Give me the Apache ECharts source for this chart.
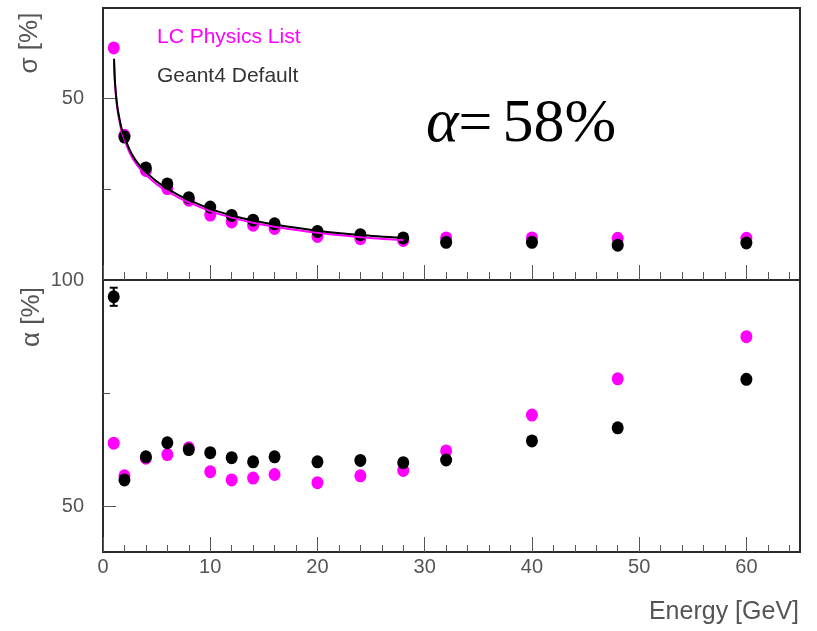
<!DOCTYPE html>
<html>
<head>
<meta charset="utf-8">
<script src="https://cdn.jsdelivr.net/npm/echarts@6/dist/echarts.min.js"></script>
<style>
  html, body { margin: 0; padding: 0; background: #fff; }
  #chart { width: 817px; height: 631px; }
</style>
</head>
<body>
<div id="chart"></div>
<script>
// Beam energies [GeV]
const energy = [1, 2, 4, 6, 8, 10, 12, 14, 16, 20, 24, 28, 32, 40, 48, 60];

// Relative resolution sigma [%]
const sigmaLC = [64.0, 39.9, 30.2, 25.2, 22.0, 17.9, 16.0, 15.1, 14.2, 12.0, 11.4, 10.9, 11.6, 11.6, 11.5, 11.5];
const sigmaG4 = [null, 39.4, 30.9, 26.5, 22.7, 20.1, 17.8, 16.5, 15.5, 13.4, 12.5, 11.6, 10.4, 10.4, 9.6, 10.2];

// Stochastic term alpha [%]
const alphaLC = [64.0, 56.8, 60.7, 61.5, 63.0, 57.7, 55.9, 56.3, 57.1, 55.3, 56.8, 58.0, 62.3, 70.2, 78.2, 87.5];
const alphaG4 = [96.3, 55.9, 61.0, 64.1, 62.6, 61.9, 60.8, 59.9, 61.0, 59.9, 60.2, 59.7, 60.3, 64.5, 67.4, 78.1];
const alphaG4Err = [2.0, 0, 0, 0, 0, 0, 0, 0, 0, 0, 0, 0, 0, 0, 0, 0];

// Fitted resolution curves (1-28 GeV)
const fitEnergy = [1.03, 1.1, 1.2, 1.35, 1.5, 1.75, 2, 2.5, 3, 3.5, 4, 5, 6, 7, 8, 10, 12, 14, 16, 20, 24, 28];
const fitG4 = [61.0, 55.5, 51.5, 47.5, 45.0, 41.6, 39.5, 35.8, 33.2, 31.3, 29.8, 27.2, 25.2, 23.5, 22.1, 19.6, 17.8, 16.4, 15.3, 13.6, 12.4, 11.6];
const fitLC = [60.0, 55.0, 51.0, 47.0, 44.3, 40.8, 38.8, 35.0, 32.4, 30.5, 29.0, 26.4, 24.4, 22.8, 21.4, 19.0, 17.2, 15.8, 14.7, 13.0, 11.8, 11.0];

// Tick positions and labels
const xMajorTicks = [0, 10, 20, 30, 40, 50, 60];
const xMinorTicks = [2, 4, 6, 8, 12, 14, 16, 18, 22, 24, 26, 28, 32, 34, 36, 38, 42, 44, 46, 48, 52, 54, 56, 58, 62, 64];
const sigmaMajorTicks = [50];
const sigmaMinorTicks = [25];
const alphaMajorTicks = [50];
const alphaMinorTicks = [75];
const alphaLabels = [50, 100];

const MAGENTA = '#ff00ff';
const BLACK = '#000000';
const TEXT = '#555555';
const FONT = "'Liberation Sans', Arial, sans-serif";
const SERIF = "'Liberation Serif', 'Times New Roman', serif";

const pairs = (xs, ys) => xs.map((x, i) => [x, ys[i]]);

const chart = echarts.init(document.getElementById('chart'), null, { renderer: 'canvas' });

const gridBase = { left: 103, width: 697, height: 272, show: true, borderColor: '#2b2b2b', borderWidth: 2, backgroundColor: 'transparent' };

function xAxisDef(gridIndex, ticks, len, labels) {
  return {
    type: 'value', gridIndex, position: 'bottom', min: 0, max: 65,
    axisLine: { show: false },
    splitLine: { show: false },
    axisTick: { show: true, inside: true, length: len, customValues: ticks, lineStyle: { color: '#555', width: 1 } },
    axisLabel: labels
      ? { show: true, customValues: labels, color: TEXT, fontSize: 20, fontFamily: FONT, margin: 5 }
      : { show: false }
  };
}

function yAxisDef(gridIndex, min, max, ticks, len, labels) {
  return {
    type: 'value', gridIndex, position: 'left', min, max,
    axisLine: { show: false },
    splitLine: { show: false },
    axisTick: { show: true, inside: true, length: len, customValues: ticks, lineStyle: { color: '#555', width: 1 } },
    axisLabel: labels
      ? { show: true, customValues: labels, color: TEXT, fontSize: 20, fontFamily: FONT, margin: 19 }
      : { show: false }
  };
}

const dot = (color) => ({ color, opacity: 1 });

const errData = energy.map((e, i) => [e, alphaG4[i], alphaG4Err[i]]).filter(d => d[2] > 0);

const option = {
  animation: false,
  backgroundColor: '#ffffff',
  grid: [
    Object.assign({ top: 8 }, gridBase),
    Object.assign({ top: 280 }, gridBase)
  ],
  xAxis: [
    xAxisDef(0, xMinorTicks, 8, null),
    xAxisDef(0, xMajorTicks, 15, null),
    xAxisDef(1, xMinorTicks, 7, null),
    xAxisDef(1, xMajorTicks, 15, xMajorTicks)
  ],
  yAxis: [
    yAxisDef(0, 0, 75, sigmaMinorTicks, 8, null),
    yAxisDef(0, 0, 75, sigmaMajorTicks, 13, sigmaMajorTicks),
    yAxisDef(1, 40, 100, alphaMinorTicks, 7, null),
    yAxisDef(1, 40, 100, alphaMajorTicks, 13, alphaLabels)
  ],
  series: [
    {
      name: 'LC Physics List', type: 'scatter', xAxisIndex: 1, yAxisIndex: 1,
      data: pairs(energy, sigmaLC), symbol: 'circle', symbolSize: [12, 13],
      itemStyle: dot(MAGENTA), z: 2
    },
    {
      name: 'Geant4 Default', type: 'scatter', xAxisIndex: 1, yAxisIndex: 1,
      data: pairs(energy, sigmaG4), symbol: 'circle', symbolSize: [12, 13],
      itemStyle: dot(BLACK), z: 3
    },
    {
      name: 'LC Physics List fit', type: 'line', xAxisIndex: 1, yAxisIndex: 1,
      data: pairs(fitEnergy, fitLC), showSymbol: false, smooth: 0.3,
      lineStyle: { color: MAGENTA, width: 2 }, z: 4
    },
    {
      name: 'Geant4 Default fit', type: 'line', xAxisIndex: 1, yAxisIndex: 1,
      data: pairs(fitEnergy, fitG4), showSymbol: false, smooth: 0.3,
      lineStyle: { color: BLACK, width: 2 }, z: 5
    },
    {
      name: 'LC Physics List alpha', type: 'scatter', xAxisIndex: 3, yAxisIndex: 3,
      data: pairs(energy, alphaLC), symbol: 'circle', symbolSize: [12, 13],
      itemStyle: dot(MAGENTA), z: 2
    },
    {
      name: 'Geant4 Default alpha', type: 'scatter', xAxisIndex: 3, yAxisIndex: 3,
      data: pairs(energy, alphaG4), symbol: 'circle', symbolSize: [12, 13],
      itemStyle: dot(BLACK), z: 3
    },
    {
      name: 'Geant4 Default alpha error', type: 'custom', xAxisIndex: 3, yAxisIndex: 3,
      data: errData, z: 4,
      renderItem: function (params, api) {
        const x = api.value(0), y = api.value(1), err = api.value(2);
        const hi = api.coord([x, y + err]);
        const lo = api.coord([x, y - err]);
        const cap = 4;
        const style = { stroke: BLACK, lineWidth: 2 };
        return {
          type: 'group',
          children: [
            { type: 'line', shape: { x1: hi[0], y1: hi[1], x2: lo[0], y2: lo[1] }, style },
            { type: 'line', shape: { x1: hi[0] - cap, y1: hi[1], x2: hi[0] + cap, y2: hi[1] }, style },
            { type: 'line', shape: { x1: lo[0] - cap, y1: lo[1], x2: lo[0] + cap, y2: lo[1] }, style }
          ]
        };
      }
    }
  ],
  graphic: [
    {
      type: 'text', left: 157, top: 27,
      style: { text: 'LC Physics List', fill: MAGENTA, font: "21px " + FONT }
    },
    {
      type: 'text', left: 157, top: 66,
      style: { text: 'Geant4 Default', fill: '#333333', font: "21px " + FONT }
    },
    {
      type: 'text', left: 426, top: 94,
      style: {
        text: '{a|α}{b|= }{c|58%}',
        rich: {
          a: { font: "italic 62px " + SERIF, fill: '#000' },
          b: { font: "60px " + SERIF, fill: '#000', width: 44 },
          c: { font: "62px " + SERIF, fill: '#000' }
        }
      }
    },
    {
      type: 'text', x: 30, y: 43, rotation: Math.PI / 2,
      style: { text: 'σ [%]', fill: TEXT, font: "26px " + FONT, align: 'center', verticalAlign: 'middle' }
    },
    {
      type: 'text', x: 32, y: 317, rotation: Math.PI / 2,
      style: { text: 'α [%]', fill: TEXT, font: "26px " + FONT, align: 'center', verticalAlign: 'middle' }
    },
    {
      type: 'text', right: 18, top: 600,
      style: { text: 'Energy [GeV]', fill: TEXT, font: "25px " + FONT }
    }
  ]
};

chart.setOption(option);
</script>
</body>
</html>
